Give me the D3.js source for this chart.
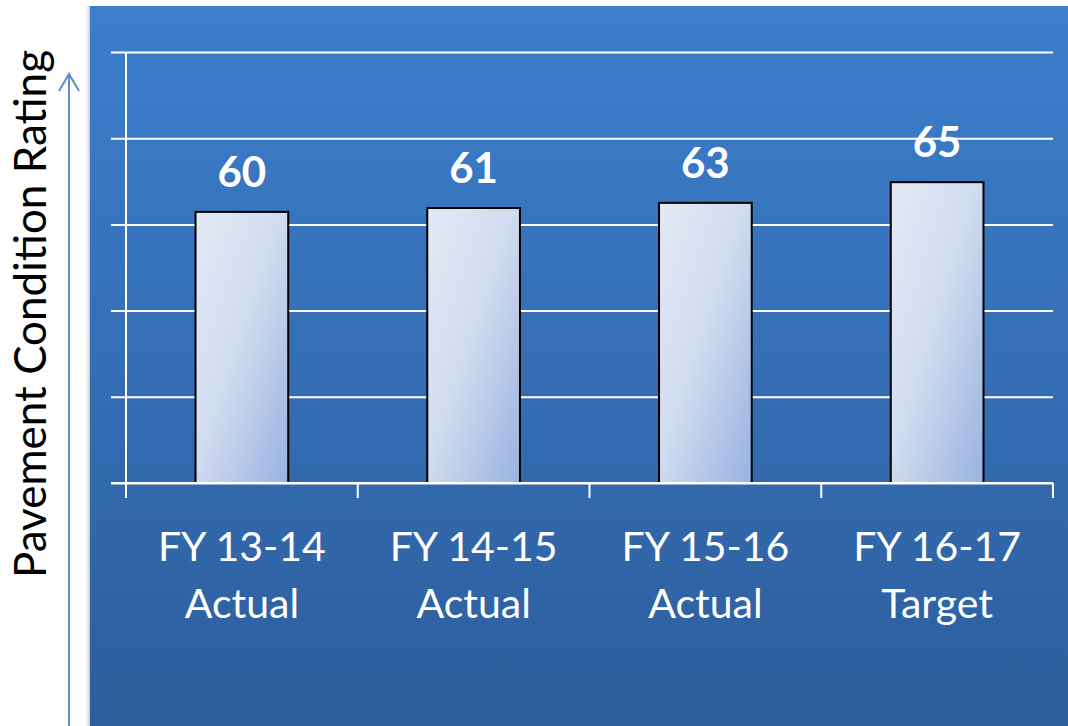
<!DOCTYPE html>
<html>
<head>
<meta charset="utf-8">
<script src="https://cdn.jsdelivr.net/npm/d3@7"></script>
<style>
  html, body { margin: 0; padding: 0; background: #ffffff; }
  svg { display: block; }
</style>
</head>
<body>
<script>
// ---- data ----
const categoryLine1 = ["FY 13-14", "FY 14-15", "FY 15-16", "FY 16-17"];
const categoryLine2 = ["Actual", "Actual", "Actual", "Target"];
const categories = categoryLine1.map((d, i) => d + " " + categoryLine2[i]);
const barHeights = [62.9, 63.8, 65.0, 69.8];   // drawn bar heights (axis 0-100)
const valueLabels = ["60", "61", "63", "65"];  // printed data labels
const gridTicks = [0, 20, 40, 60, 80, 100];
const axisTitle = "Pavement Condition Rating";

// ---- layout ----
const W = 1068, H = 726;
const plot = { left: 126, right: 1053, top: 52, bottom: 483 };
const font = "Lato, 'Open Sans', sans-serif";

const svg = d3.select("body").append("svg").attr("width", W).attr("height", H);
const defs = svg.append("defs");

const bg = defs.append("linearGradient").attr("id", "panelGrad")
  .attr("x1", 0).attr("y1", 0).attr("x2", 0).attr("y2", 1);
bg.append("stop").attr("offset", "0%").attr("stop-color", "#3c7ecc");
bg.append("stop").attr("offset", "100%").attr("stop-color", "#2d5e9d");

const shadow = defs.append("linearGradient").attr("id", "shadowGrad")
  .attr("x1", 0).attr("y1", 0).attr("x2", 1).attr("y2", 0);
shadow.append("stop").attr("offset", "0%").attr("stop-color", "#ffffff").attr("stop-opacity", 0);
shadow.append("stop").attr("offset", "100%").attr("stop-color", "#b8b8b8").attr("stop-opacity", 0.8);

const barGrad = defs.append("linearGradient").attr("id", "barGrad")
  .attr("x1", 0).attr("y1", 0).attr("x2", 1).attr("y2", 1);
barGrad.append("stop").attr("offset", "0%").attr("stop-color", "#e3e9f5");
barGrad.append("stop").attr("offset", "45%").attr("stop-color", "#d3ddf0");
barGrad.append("stop").attr("offset", "100%").attr("stop-color", "#98b2e1");

// panel
svg.append("rect").attr("x", 84).attr("y", 6).attr("width", 6).attr("height", H - 6)
  .attr("fill", "url(#shadowGrad)");
svg.append("rect").attr("x", 90).attr("y", 6).attr("width", W - 90).attr("height", H - 6)
  .attr("fill", "url(#panelGrad)");

// scales
const x = d3.scaleBand().domain(categories).range([plot.left, plot.right]).padding(0);
const y = d3.scaleLinear().domain([0, 100]).range([plot.bottom, plot.top]);
const barW = x.bandwidth() * 0.4;

// gridlines (y axis with long ticks)
const yAxis = d3.axisLeft(y).tickValues(gridTicks).tickSize(-(plot.right - plot.left + 15)).tickFormat("");
const gy = svg.append("g").attr("transform", `translate(${plot.left - 15},0)`).call(yAxis);
gy.select(".domain").remove();
gy.selectAll(".tick line").attr("stroke", "#ffffff").attr("stroke-width", 2);

// vertical axis line
svg.append("line")
  .attr("x1", plot.left).attr("x2", plot.left)
  .attr("y1", y(100)).attr("y2", plot.bottom + 15)
  .attr("stroke", "#ffffff").attr("stroke-width", 2);

// category boundary ticks
const boundaries = categories.map(c => x(c)).concat([x(categories[categories.length - 1]) + x.bandwidth()]);
svg.append("g").selectAll("line").data(boundaries).join("line")
  .attr("x1", d => d).attr("x2", d => d)
  .attr("y1", plot.bottom).attr("y2", plot.bottom + 15)
  .attr("stroke", "#ffffff").attr("stroke-width", 2);

// bars
svg.append("g").selectAll("rect").data(barHeights).join("rect")
  .attr("x", (d, i) => x(categories[i]) + x.bandwidth() / 2 - barW / 2)
  .attr("y", d => y(d))
  .attr("width", barW)
  .attr("height", d => plot.bottom - y(d))
  .attr("fill", "url(#barGrad)")
  .attr("stroke", "#000000").attr("stroke-width", 2);

// baseline redraw over bars
svg.append("line").attr("x1", plot.left - 15).attr("x2", plot.right)
  .attr("y1", y(0)).attr("y2", y(0)).attr("stroke", "#ffffff").attr("stroke-width", 2);

// value labels
svg.append("g").selectAll("text").data(barHeights).join("text")
  .attr("x", (d, i) => x(categories[i]) + x.bandwidth() / 2)
  .attr("y", d => y(d) - 25)
  .attr("text-anchor", "middle")
  .attr("font-family", font).attr("font-weight", "bold").attr("font-size", 42)
  .attr("fill", "#ffffff")
  .text((d, i) => valueLabels[i]);

// category labels
const cl = svg.append("g").selectAll("text").data(categories).join("text")
  .attr("text-anchor", "middle")
  .attr("font-family", font).attr("font-size", 41)
  .attr("fill", "#ffffff");
cl.append("tspan").attr("x", d => x(d) + x.bandwidth() / 2).attr("y", 561)
  .text((d, i) => categoryLine1[i]);
cl.append("tspan").attr("x", d => x(d) + x.bandwidth() / 2).attr("y", 618)
  .text((d, i) => categoryLine2[i]);

// axis title
svg.append("text")
  .attr("transform", "translate(46,314) rotate(-90)")
  .attr("text-anchor", "middle")
  .attr("font-family", font).attr("font-size", 44)
  .attr("fill", "#000000")
  .text(axisTitle);

// arrow
svg.append("line").attr("x1", 69).attr("x2", 69).attr("y1", 74).attr("y2", H)
  .attr("stroke", "#5a8ccc").attr("stroke-width", 2);
svg.append("path").attr("d", "M59,91 L69,74 L79,91")
  .attr("fill", "none").attr("stroke", "#5a8ccc").attr("stroke-width", 2);
</script>
</body>
</html>
